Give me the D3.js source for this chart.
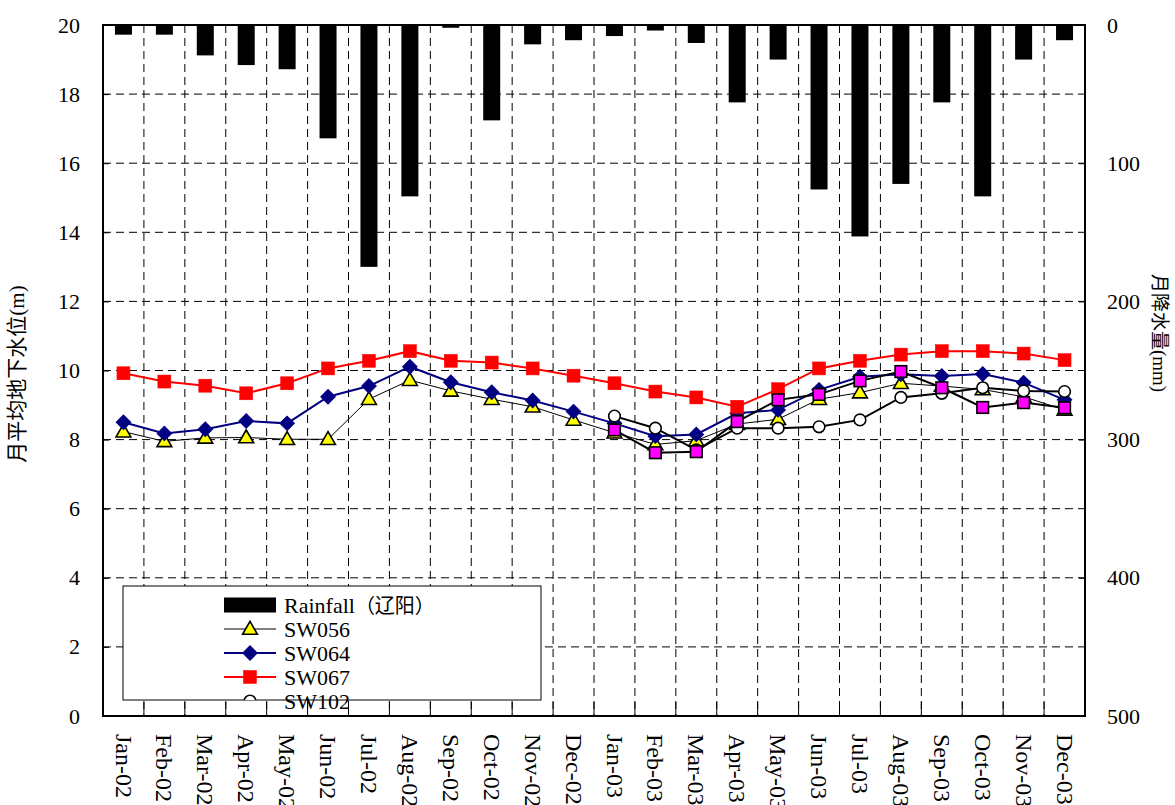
<!DOCTYPE html>
<html>
<head>
<meta charset="utf-8">
<script src="https://cdn.jsdelivr.net/npm/d3@7"></script>
<style>
  html, body { margin: 0; padding: 0; background: #fff; }
  svg { display: block; }
  text { font-family: "Liberation Serif", "Times New Roman", serif; fill: #000; }
  .cjk { font-family: "Noto Sans CJK SC", "Liberation Serif", serif; }
</style>
</head>
<body>
<svg id="chart" width="1175" height="805"></svg>
<script>
// Monthly categories
const months = ["Jan-02","Feb-02","Mar-02","Apr-02","May-02","Jun-02","Jul-02","Aug-02","Sep-02","Oct-02","Nov-02","Dec-02",
                "Jan-03","Feb-03","Mar-03","Apr-03","May-03","Jun-03","Jul-03","Aug-03","Sep-03","Oct-03","Nov-03","Dec-03"];

// Monthly rainfall, mm (right axis, hanging from the top)
const rainfall = [7, 7, 22, 29, 32, 82, 175, 124, 2, 69, 14, 11,
                  8, 4, 13, 56, 25, 119, 153, 115, 56, 124, 25, 11];

// Monthly mean groundwater level, m (left axis)
const sw056 = [8.23, 7.95, 8.05, 8.06, 8.01, 8.01, 9.17, 9.72, 9.41, 9.17, 8.95, 8.57,
               8.20, 7.86, 7.97, 8.45, 8.59, 9.17, 9.36, 9.63, 9.55, 9.45, 9.24, 8.86];
const sw064 = [8.50, 8.18, 8.30, 8.54, 8.47, 9.24, 9.55, 10.11, 9.66, 9.37, 9.13, 8.81,
               8.47, 8.10, 8.15, 8.76, 8.86, 9.44, 9.82, 9.89, 9.84, 9.90, 9.65, 9.15];
const sw067 = [9.92, 9.68, 9.56, 9.34, 9.63, 10.06, 10.28, 10.56, 10.28, 10.23, 10.06, 9.85,
               9.63, 9.39, 9.22, 8.95, 9.46, 10.06, 10.28, 10.46, 10.56, 10.56, 10.49, 10.30];
const sw102 = [null, null, null, null, null, null, null, null, null, null, null, null,
               8.68, 8.33, 7.70, 8.33, 8.33, 8.37, 8.57, 9.22, 9.34, 9.50, 9.41, 9.39];
const swExtra = [null, null, null, null, null, null, null, null, null, null, null, null,
                 8.28, 7.62, 7.65, 8.52, 9.15, 9.31, 9.70, 9.97, 9.50, 8.93, 9.07, 8.92];

// Axis ticks
const leftTicks = [0, 2, 4, 6, 8, 10, 12, 14, 16, 18, 20];
const rightTicks = [0, 100, 200, 300, 400, 500];

const svg = d3.select("#chart");
const L = 103, R = 1085, T = 25, B = 716;

const x = d3.scaleBand().domain(months).range([L, R]).padding(0);
const y = d3.scaleLinear().domain([0, 20]).range([B, T]);
const yR = d3.scaleLinear().domain([0, 500]).range([T, B]);
const xc = m => x(m) + x.bandwidth() / 2;

// Grid: dashed horizontals and verticals at month boundaries
const grid = svg.append("g").attr("stroke", "#000").attr("stroke-width", 1).attr("stroke-dasharray", "8,5");
leftTicks.slice(1, -1).forEach(v => {
  grid.append("line").attr("x1", L).attr("x2", R).attr("y1", y(v)).attr("y2", y(v));
});
months.slice(1).forEach(m => {
  grid.append("line").attr("x1", x(m)).attr("x2", x(m)).attr("y1", T).attr("y2", B);
});

// Rainfall bars hanging from the top axis
const barW = 17;
svg.append("g").selectAll("rect").data(months).join("rect")
  .attr("x", m => xc(m) - barW / 2)
  .attr("width", barW)
  .attr("y", yR(0))
  .attr("height", (m, i) => yR(rainfall[i]) - yR(0))
  .attr("fill", "#000");

// Left axis
const axL = svg.append("g").attr("transform", `translate(${L},0)`)
  .call(d3.axisLeft(y).tickValues(leftTicks).tickSizeInner(-6).tickSizeOuter(0).tickPadding(23));
axL.select(".domain").remove();
axL.selectAll("line").attr("stroke", "#000");
axL.selectAll("text").attr("font-size", 22).attr("font-family", "Liberation Serif");

// Right axis
const axR = svg.append("g").attr("transform", `translate(${R},0)`)
  .call(d3.axisRight(yR).tickValues(rightTicks).tickSizeInner(-6).tickSizeOuter(0).tickPadding(22));
axR.select(".domain").remove();
axR.selectAll("line").attr("stroke", "#000");
axR.selectAll("text").attr("font-size", 22).attr("font-family", "Liberation Serif");

// Bottom axis: labels at month centres, rotated
const axB = svg.append("g").attr("transform", `translate(0,${B})`)
  .call(d3.axisBottom(x).tickSize(0).tickPadding(0));
axB.select(".domain").remove();
axB.selectAll("text")
  .attr("font-size", 24).attr("font-family", "Liberation Serif")
  .attr("x", 0).attr("y", 0).attr("dy", "0.33em")
  .attr("text-anchor", "start")
  .attr("transform", "translate(0,18) rotate(90)");
// Tick marks at month boundaries along the bottom
svg.append("g").selectAll("line").data(months.slice(1)).join("line")
  .attr("x1", m => x(m)).attr("x2", m => x(m))
  .attr("y1", B - 14).attr("y2", B)
  .attr("stroke", "#000");

// Plot frame
svg.append("rect").attr("x", L).attr("y", T).attr("width", R - L).attr("height", B - T)
  .attr("fill", "none").attr("stroke", "#000").attr("stroke-width", 2);

// Line series
const line = d3.line().defined(d => d.v != null).x(d => xc(d.m)).y(d => y(d.v));
const pts = arr => months.map((m, i) => ({ m, v: arr[i] })).filter(d => d.v != null);

const tri = d3.symbol().type(d3.symbolTriangle).size(95);
const sq = d3.symbol().type(d3.symbolSquare).size(105);

function drawSeries(arr, lineColor, lineW, marker) {
  const g = svg.append("g");
  g.append("path").datum(pts(arr)).attr("d", line)
    .attr("fill", "none").attr("stroke", lineColor).attr("stroke-width", lineW);
  const mg = g.append("g");
  pts(arr).forEach(d => marker(mg, xc(d.m), y(d.v)));
}

const markTri = (g, cx, cy) => g.append("path").attr("d", tri())
  .attr("transform", `translate(${cx},${cy + 1})`).attr("fill", "#ffff00").attr("stroke", "#000").attr("stroke-width", 1.6);
const markDia = (g, cx, cy) => g.append("path").attr("d", sq())
  .attr("transform", `translate(${cx},${cy}) rotate(45)`).attr("fill", "#000080").attr("stroke", "#000080").attr("stroke-width", 1);
const markRed = (g, cx, cy) => g.append("rect").attr("x", cx - 6.5).attr("y", cy - 6.5).attr("width", 13).attr("height", 13)
  .attr("fill", "#ff0000").attr("stroke", "#ff0000").attr("stroke-width", 0.5);
const markCirc = (g, cx, cy) => g.append("circle").attr("cx", cx).attr("cy", cy).attr("r", 5.8)
  .attr("fill", "#fff").attr("stroke", "#000").attr("stroke-width", 1.6);
const markMag = (g, cx, cy) => g.append("rect").attr("x", cx - 5.8).attr("y", cy - 5.8).attr("width", 11.6).attr("height", 11.6)
  .attr("fill", "#ff00ff").attr("stroke", "#000").attr("stroke-width", 1.6);

drawSeries(sw056, "#000", 1, markTri);
drawSeries(sw064, "#000080", 2, markDia);
drawSeries(sw067, "#ff0000", 2, markRed);
drawSeries(sw102, "#000", 2, markCirc);
drawSeries(swExtra, "#000", 2, markMag);

// Legend
const lgX = 123, lgY = 586, lgW = 418, lgH = 114;
svg.append("defs").append("clipPath").attr("id", "lgclip")
  .append("rect").attr("x", lgX).attr("y", lgY).attr("width", lgW).attr("height", lgH);
const lg = svg.append("g");
lg.append("rect").attr("x", lgX).attr("y", lgY).attr("width", lgW).attr("height", lgH)
  .attr("fill", "#fff").attr("stroke", "#000").attr("stroke-width", 1);
const sx0 = 224, sx1 = 276, tx = 284;
const rows = [605, 629, 653, 677, 701];
const lgInner = lg.append("g").attr("clip-path", "url(#lgclip)");
lgInner.append("rect").attr("x", sx0).attr("y", rows[0] - 7.5).attr("width", sx1 - sx0).attr("height", 15).attr("fill", "#000");
const lgLine = (yy, c, w) => lgInner.append("line").attr("x1", sx0).attr("x2", sx1).attr("y1", yy).attr("y2", yy).attr("stroke", c).attr("stroke-width", w);
lgLine(rows[1], "#000", 1); markTri(lgInner, (sx0 + sx1) / 2, rows[1]);
lgLine(rows[2], "#000080", 2); markDia(lgInner, (sx0 + sx1) / 2, rows[2]);
lgLine(rows[3], "#ff0000", 2); markRed(lgInner, (sx0 + sx1) / 2, rows[3]);
markCirc(lgInner, (sx0 + sx1) / 2, rows[4]);

const lgLabels = ["Rainfall", "SW056", "SW064", "SW067", "SW102"];
lgLabels.forEach((t, i) => {
  const tt = lg.append("text").attr("x", tx).attr("y", rows[i]).attr("dy", "0.35em").attr("font-size", 22).text(t);
  if (i === 0) tt.append("tspan").attr("class", "cjk").attr("font-size", 20).text("（辽阳）");
});

// Axis titles
svg.append("text").attr("transform", "translate(24,374) rotate(-90)")
  .attr("text-anchor", "middle").attr("font-size", 21)
  .call(t => {
    t.append("tspan").attr("class", "cjk").text("月平均地下水位");
    t.append("tspan").text("(m)");
  });
svg.append("text").attr("transform", "translate(1153,333) rotate(90)")
  .attr("text-anchor", "middle").attr("font-size", 19)
  .call(t => {
    t.append("tspan").attr("class", "cjk").text("月降水量");
    t.append("tspan").text("(mm)");
  });
</script>
</body>
</html>
